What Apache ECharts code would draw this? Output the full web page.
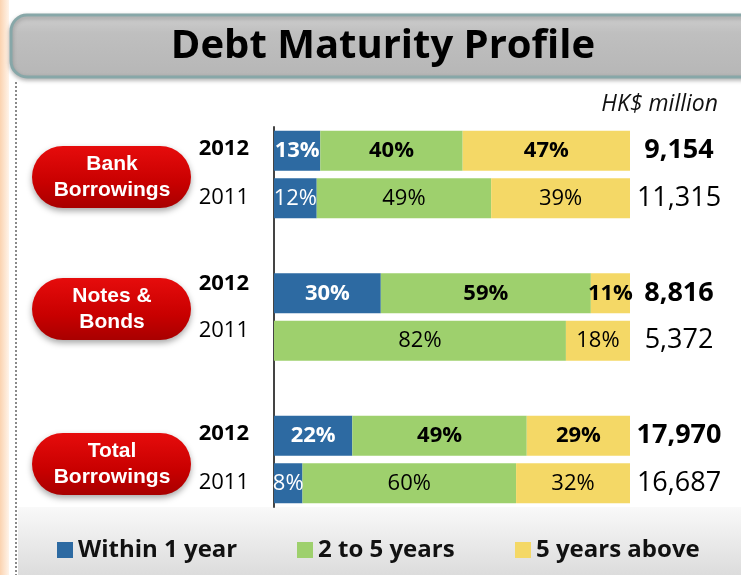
<!DOCTYPE html>
<html><head><meta charset="utf-8">
<script src="https://cdn.jsdelivr.net/npm/echarts@6/dist/echarts.min.js"></script>
<style>html,body{margin:0;padding:0;background:#fff}#c{width:741px;height:575px}</style>
</head><body><div id="c"></div>
<script>
// ---- data ----
const groups = ['Bank\nBorrowings', 'Notes &\nBonds', 'Total\nBorrowings'];
const rowKeys = ['Bank 2012', 'Bank 2011', 'gap1', 'Notes 2012', 'Notes 2011', 'gap2', 'Total 2012', 'Total 2011'];
const years = ['2012', '2011', '', '2012', '2011', '', '2012', '2011'];
const totals = ['9,154', '11,315', '', '8,816', '5,372', '', '17,970', '16,687'];
const seriesNames = ['Within 1 year', '2 to 5 years', '5 years above'];
const within1 = [13, 12, null, 30, 0, null, 22, 8];
const twoTo5 = [40, 49, null, 59, 82, null, 49, 60];
const above5 = [47, 39, null, 11, 18, null, 29, 32];
const unitLabel = 'HK$ million';
const chartTitle = 'Debt Maturity Profile';

// ---- style ----
const FONT = '"Open Sans", "Noto Sans", sans-serif';
const PILL_FONT = '"Liberation Sans", Arial, sans-serif';
const colors = ['#2d6aa2', '#9ed06d', '#f4d866'];
const labelColors = ['#ffffff', '#000000', '#000000'];
const values = [within1, twoTo5, above5];
const raisedRows = [3, 4]; // year labels of this group sit a little higher

const chart = echarts.init(document.getElementById('c'));

function seriesData(arr) {
  return arr.map((v, i) => v == null ? '-' : {
    value: v,
    label: { fontWeight: years[i] === '2012' ? 'bold' : 'normal' }
  });
}

const series = seriesNames.map((name, s) => ({
  name, type: 'bar', stack: 'all', barWidth: 40, yAxisIndex: 0,
  data: seriesData(values[s]),
  itemStyle: { color: colors[s] },
  label: {
    show: true, position: 'inside', fontFamily: FONT, fontSize: 22,
    color: labelColors[s],
    formatter: p => p.value ? p.value + '%' : ''
  },
  emphasis: { disabled: true }
}));

const pillY = [177, 309, 464];
const graphics = [
  { type: 'rect', z: -10, shape: { x: 0, y: 0, width: 9, height: 575 },
    style: { fill: new echarts.graphic.LinearGradient(0, 0, 1, 0, [{ offset: 0, color: '#fbd3b0' }, { offset: 1, color: '#fff4ea' }]) } },
  { type: 'line', z: -10, shape: { x1: 16, y1: 82, x2: 16, y2: 575 },
    style: { stroke: '#8a8a8a', lineWidth: 2, lineDash: [2, 2] } },
  { type: 'rect', z: -10, shape: { x: 18, y: 507, width: 723, height: 68 },
    style: { fill: new echarts.graphic.LinearGradient(0, 0, 0, 1, [{ offset: 0, color: '#f9f9f9' }, { offset: 1, color: '#dcdcdc' }]) } },
  { type: 'rect', z: -5, shape: { x: 11, y: 15, width: 760, height: 62, r: 16 },
    style: { fill: new echarts.graphic.LinearGradient(0, 0, 0, 1, [{ offset: 0, color: '#d0d0d0' }, { offset: 0.3, color: '#bfbfbf' }, { offset: 1, color: '#b6b6b6' }]),
      stroke: '#87a7a8', lineWidth: 3, shadowColor: 'rgba(0,0,0,0.25)', shadowBlur: 4, shadowOffsetY: 2 } },
  { type: 'text', z: 5, style: { text: chartTitle, x: 383, y: 47, textAlign: 'center', textVerticalAlign: 'middle',
      font: 'bold 40px ' + FONT, fill: '#000' } },
  { type: 'text', z: 5, style: { text: unitLabel, x: 718, y: 104, textAlign: 'right', textVerticalAlign: 'middle',
      font: 'italic 23px ' + FONT, fill: '#111' } }
];
groups.forEach((g, i) => {
  graphics.push({ type: 'rect', z: 5, shape: { x: 32, y: pillY[i] - 31, width: 159, height: 62, r: 31 },
    style: { fill: new echarts.graphic.LinearGradient(0, 0, 0, 1, [{ offset: 0, color: '#e60c0c' }, { offset: 0.6, color: '#c80000' }, { offset: 1, color: '#a80000' }]),
      shadowColor: 'rgba(0,0,0,0.35)', shadowBlur: 6, shadowOffsetY: 3 } });
  graphics.push({ type: 'text', z: 6, style: { text: g, x: 112, y: pillY[i], textAlign: 'center', textVerticalAlign: 'middle',
      font: 'bold 21px ' + PILL_FONT, fill: '#fff', lineHeight: 26 } });
});

const legendLeft = [57, 297, 515];

function yearFmt(v, i) {
  if (!years[i]) return '';
  const k = (years[i] === '2012' ? 'b' : 'n') + (raisedRows.indexOf(i) >= 0 ? 'u' : '');
  return '{' + k + '|' + years[i] + '}';
}
const yr = { fontFamily: FONT, fontSize: 22, color: '#000' };

chart.setOption({
  animation: false,
  backgroundColor: '#ffffff',
  grid: { left: 274, right: 111, top: 127, bottom: 68, containLabel: false },
  xAxis: { type: 'value', min: 0, max: 100, show: false },
  yAxis: [
    { type: 'category', data: rowKeys, inverse: true,
      axisLine: { show: true, lineStyle: { color: '#444', width: 2 } },
      axisTick: { show: false }, splitLine: { show: false },
      axisLabel: { interval: 0, margin: 25, formatter: yearFmt,
        rich: { b: Object.assign({}, yr, { fontWeight: 'bold', padding: [0, 0, 4, 0] }),
                n: Object.assign({}, yr, { padding: [0, 0, 2, 0] }),
                bu: Object.assign({}, yr, { fontWeight: 'bold', padding: [0, 0, 20, 0] }),
                nu: Object.assign({}, yr, { padding: [0, 0, 20, 0] }) } } },
    { type: 'category', data: rowKeys, inverse: true, position: 'right',
      axisLine: { show: false }, axisTick: { show: false }, splitLine: { show: false },
      axisLabel: { interval: 0, margin: 49, align: 'center',
        formatter: (v, i) => totals[i] ? '{' + (years[i] === '2012' ? 'b' : 'n') + '|' + totals[i] + '}' : '',
        rich: { b: { fontFamily: FONT, fontSize: 27, fontWeight: 'bold', color: '#000' },
                n: { fontFamily: FONT, fontSize: 27, color: '#000' } } } }
  ],
  legend: seriesNames.map((n, i) => ({
    data: [n], left: legendLeft[i], top: 538, padding: 0, icon: 'rect', itemWidth: 16, itemHeight: 16, itemGap: 7,
    selectedMode: false,
    textStyle: { fontFamily: FONT, fontSize: 24, fontWeight: 'bold', color: '#111' }
  })),
  graphic: graphics,
  series
});
</script></body></html>
